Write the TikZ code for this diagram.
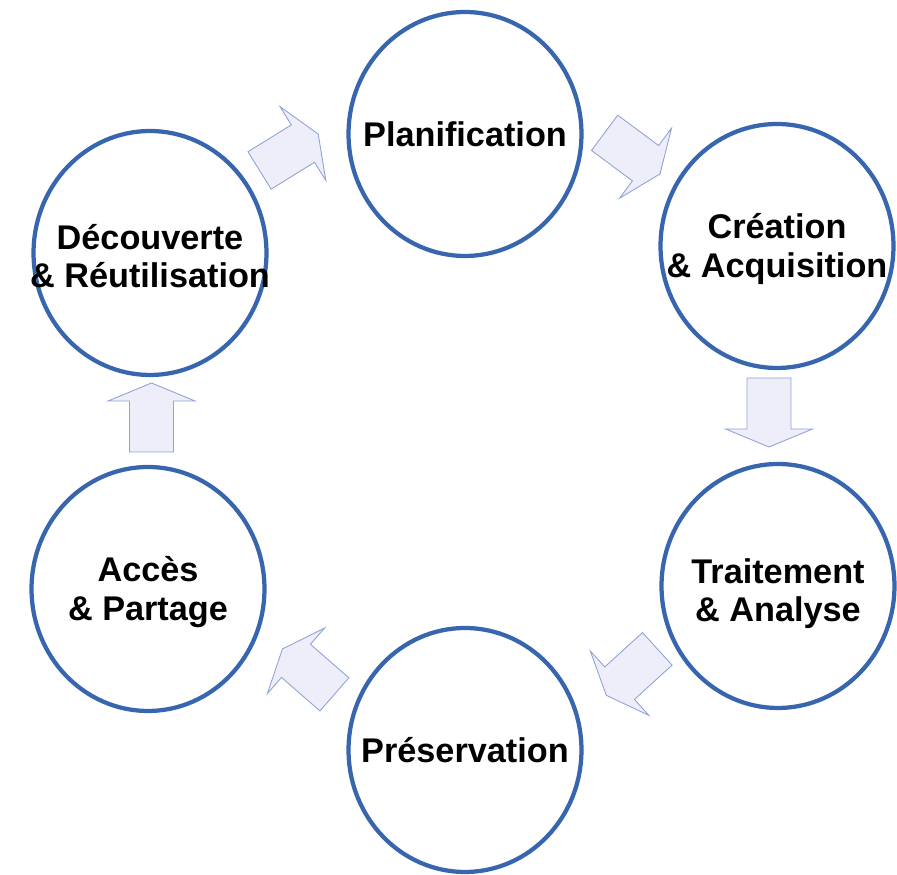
\documentclass[tikz,border=0pt]{standalone}
\usepackage{fontspec}
\setmainfont{Liberation Sans}
\usetikzlibrary{shapes.geometric}

\definecolor{ringblue}{RGB}{56,102,174}
\definecolor{arrowfill}{RGB}{238,238,251}
\definecolor{arrowline}{RGB}{143,163,212}

\begin{document}
\begin{tikzpicture}[x=0.02cm,y=0.02cm,
    stage/.style={ellipse,draw=ringblue,line width=0.085cm,minimum width=4.66cm,minimum height=4.88cm,inner sep=0pt},
    caption/.style={font=\fontsize{19.5}{21.8}\selectfont\bfseries,align=center,inner sep=0pt,yshift=-0.06cm}]
  \tikzset{flow/.style={fill=arrowfill,draw=arrowline,line width=0.5pt}}
  \useasboundingbox (0,0) rectangle (897,875);
  \node[stage,label={[caption,yshift=0.06cm]center:Planification}] (plan) at (465,741) {};
  \node[stage,label={[caption]center:Création\\\& Acquisition}] (crea) at (777,629) {};
  \node[stage,label={[caption,yshift=-0.1cm]center:Traitement\\\& Analyse}] (trait) at (778,289) {};
  \node[stage,label={[caption,yshift=0.06cm]center:Préservation}] (pres) at (465,125) {};
  \node[stage,label={[caption]center:Accès\\\& Partage}] (acces) at (148,286) {};
  \node[stage,label={[caption]center:Découverte\\\& Réutilisation}] (decouv) at (150,622) {};
  % block arrows
  \foreach \x/\y/\a in {288.9/722.7/31.8, 632.3/721.6/-36.6, 769/462.5/-90,
                        631.8/202.9/-137.7, 308.4/203.3/138.9, 151.5/457.5/90}
    \draw[flow,shift={(\x,\y)},rotate=\a] (-34.5,-22) -- (16.5,-22) -- (16.5,-43.5)
      -- (34.5,0) -- (16.5,43.5) -- (16.5,22) -- (-34.5,22) -- cycle;
\end{tikzpicture}
\end{document}
